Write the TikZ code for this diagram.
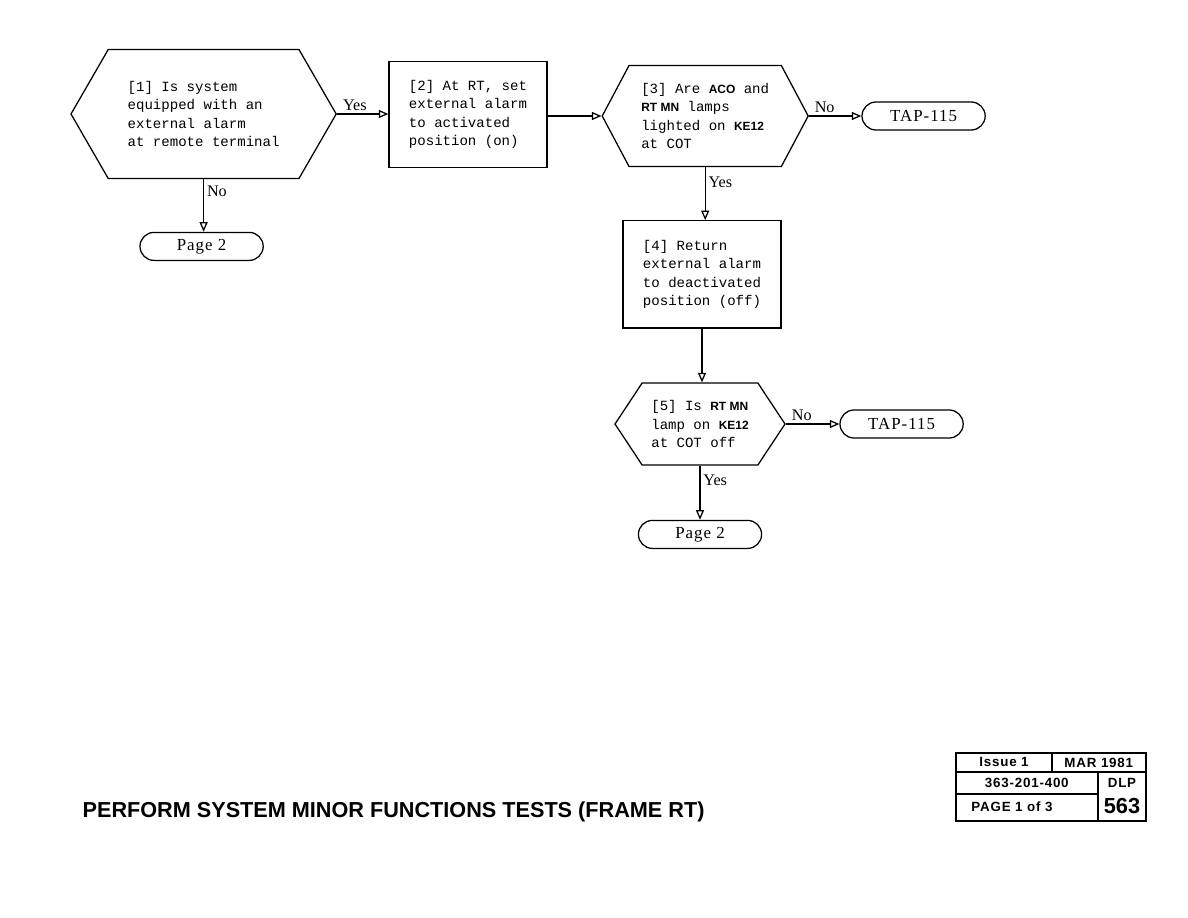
\documentclass[tikz,border=0pt]{standalone}
\usepackage{fontspec}
\setmainfont{Liberation Serif}
\newfontfamily\typew{Liberation Mono}
\newfontfamily\hsans{Liberation Sans}
\usetikzlibrary{shapes.symbols,shapes.misc,arrows.meta}
\newcommand{\kw}[1]{{\hsans\bfseries\fontsize{8.5}{10}\selectfont #1}}
\begin{document}
\begin{tikzpicture}[
    line width=0.9pt,
    txt/.style={font=\typew\fontsize{10}{13.1}\selectfont, align=left},
    hexa/.style={txt, draw, signal, signal to=west and east, inner sep=0pt},
    act/.style={txt, draw, rectangle, inner sep=0pt},
    term/.style={draw, rounded rectangle, minimum width=3.08cm, minimum height=0.7cm, inner sep=0pt, font=\fontsize{12}{14}\selectfont\addfontfeature{LetterSpace=6}},
    lbl/.style={font=\fontsize{11.5}{13}\selectfont, inner sep=2pt},
    arr/.style={-{Triangle[open, length=2.4mm, width=2mm]}},
    hdr/.style={font=\hsans\bfseries\fontsize{9.5}{11}\selectfont\addfontfeature{LetterSpace=6}, inner sep=0pt},
]
\useasboundingbox (0,0) rectangle (29.7,-22.95);

% Decisions and actions
\node[hexa, signal pointer angle=120, minimum width=6.63cm, minimum height=3.23cm] (isext) at (5.09,-2.85)
    {[1] Is system\\equipped with an\\external alarm\\at remote terminal};
\node[act, minimum width=3.95cm, minimum height=2.65cm] (seton) at (11.7,-2.86)
    {[2] At RT, set\\external alarm\\to activated\\position (on)};
\node[hexa, signal pointer angle=124, minimum width=5.15cm, minimum height=2.52cm] (lamps) at (17.63,-2.9)
    {[3] Are \kw{ACO} and\\\kw{RT MN} lamps\\lighted on \kw{KE12}\\at COT};
\node[act, minimum width=3.95cm, minimum height=2.68cm] (setoff) at (17.55,-6.86)
    {[4] Return\\external alarm\\to deactivated\\position (off)};
\node[hexa, signal pointer angle=113, minimum width=4.25cm, minimum height=2.05cm] (mnoff) at (17.5,-10.6)
    {[5] Is \kw{RT MN}\\lamp on \kw{KE12}\\at COT off};

% Terminals
\node[term] (pgA)  at (5.04,-6.16) {Page 2};
\node[term] (tapA) at (23.09,-2.9) {TAP-115};
\node[term] (tapB) at (22.54,-10.6) {TAP-115};
\node[term] (pgB)  at (17.5,-13.36) {Page 2};

% Edges
\draw[arr] (isext.east) -- node[lbl, above, pos=0.35]{Yes} (isext.east -| seton.west);
\draw[arr] (isext.south) -- node[lbl, right, pos=0.22]{No} (isext.south |- pgA.north);
\draw[arr] (seton.east |- lamps.west) -- (lamps.west);
\draw[arr] (lamps.east) -- node[lbl, above, pos=0.3]{No} (tapA.west);
\draw[arr] (lamps.south) -- node[lbl, right, pos=0.28]{Yes} (lamps.south |- setoff.north);
\draw[arr] (setoff.south) -- (setoff.south |- mnoff.north);
\draw[arr] (mnoff.east) -- node[lbl, above, pos=0.3]{No} (tapB.west);
\draw[arr] (mnoff.south) -- node[lbl, right, pos=0.27]{Yes} (mnoff.south |- pgB.north);

% Title
\node[font=\hsans\bfseries\fontsize{15.4}{18}\selectfont, anchor=west, inner sep=0pt] (title) at (2.05,-20.3)
    {PERFORM SYSTEM MINOR FUNCTIONS TESTS (FRAME RT)};

% Issue block
\draw (23.9,-18.825) rectangle (28.65,-20.525);
\draw (23.9,-19.3) -- (28.65,-19.3);
\draw (23.9,-19.85) -- (27.45,-19.85);
\draw (26.3,-18.825) -- (26.3,-19.3);
\draw (27.45,-19.3) -- (27.45,-20.525);
\node[hdr] (issue) at (25.1,-19.06) {Issue 1};
\node[hdr] (date)  at (27.47,-19.06) {MAR 1981};
\node[hdr] (docno) at (25.67,-19.58) {363-201-400};
\node[hdr] (dlp)   at (28.05,-19.58) {DLP};
\node[hdr] (pgno) at (25.3,-20.18) {PAGE 1 of 3};
\node[hdr, font=\hsans\bfseries\fontsize{15.5}{17}\selectfont] (dlpno) at (28.05,-20.15) {563};
\end{tikzpicture}
\end{document}
